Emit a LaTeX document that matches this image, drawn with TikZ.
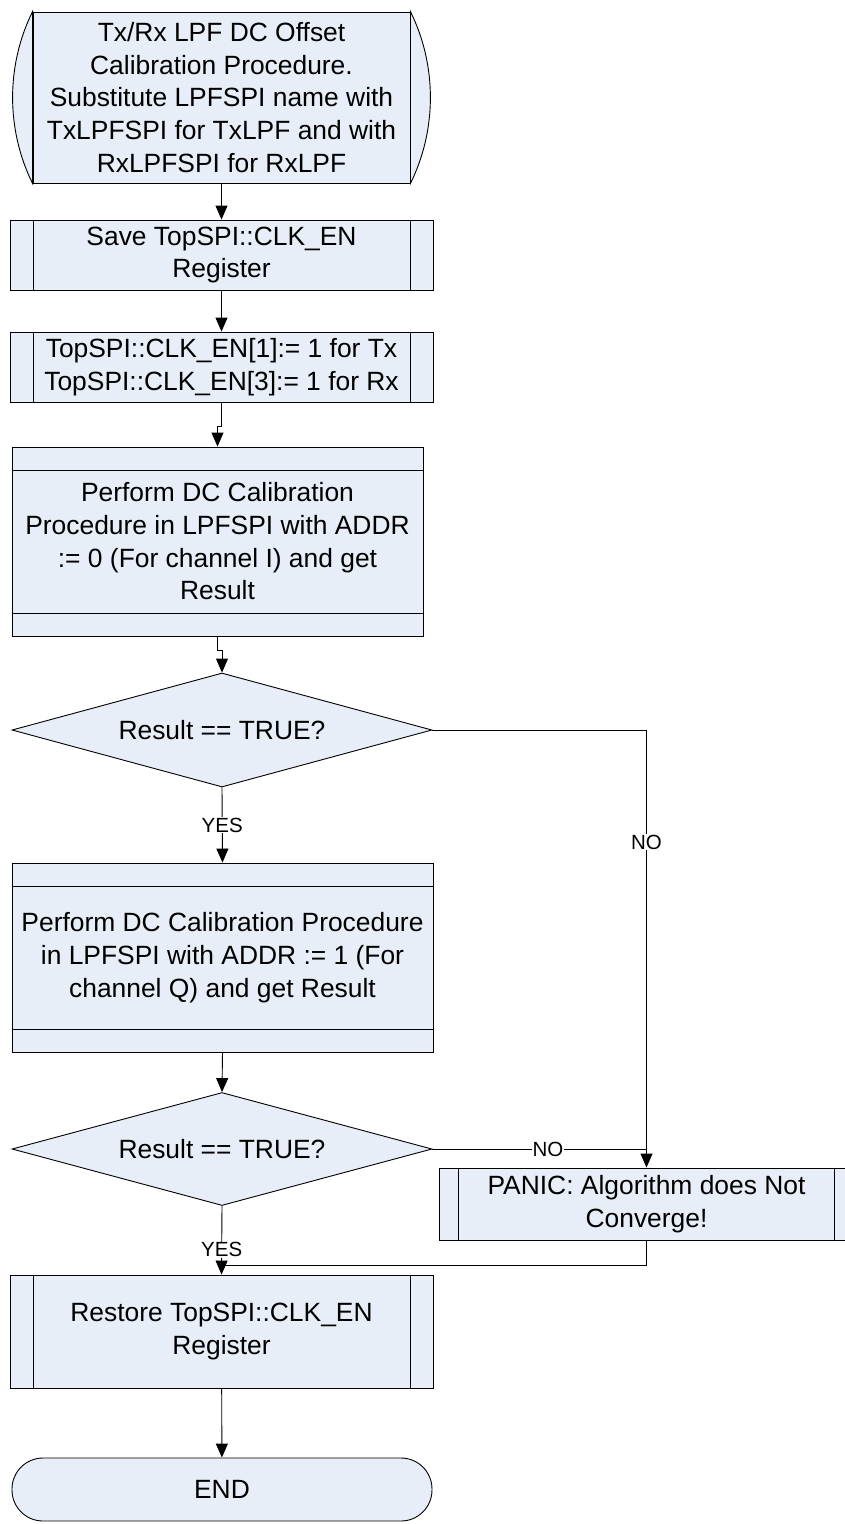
\documentclass[tikz,border=0pt]{standalone}
\usepackage{fontspec}
\setmainfont{Liberation Sans}
\usepackage{tikz}
\usetikzlibrary{arrows.meta}
\usetikzlibrary{shapes.geometric}
\definecolor{boxfill}{RGB}{232,238,247}

\begin{document}
\begin{tikzpicture}[x=1pt, y=-1pt, line width=0.9pt,
    every node/.style={font=\fontsize{26.4}{32.7}\selectfont, align=center, inner sep=0pt},
    box/.style={draw=black, fill=boxfill, rectangle},
    sub/.style={box, path picture={
        \draw ([xshift=#1]path picture bounding box.north west) -- ([xshift=#1]path picture bounding box.south west);
        \draw ([xshift=-#1]path picture bounding box.north east) -- ([xshift=-#1]path picture bounding box.south east);}},
    sub/.default=23pt,
    proc/.style={box, path picture={
        \draw ([yshift=-23pt]path picture bounding box.north west) -- ([yshift=-23pt]path picture bounding box.north east);
        \draw ([yshift=23pt]path picture bounding box.south west) -- ([yshift=23pt]path picture bounding box.south east);}},
    check/.style={draw=black, fill=boxfill, diamond, aspect=3.7, minimum width=420pt, minimum height=114pt},
    term/.style={draw=black, fill=boxfill, rounded corners=31pt},
    lbl/.style={font=\fontsize{20.5}{24}\selectfont, fill=white, inner sep=0.5pt},
    arr/.style={-{Triangle[length=14pt,width=12pt]}}]
            \useasboundingbox (0,0) rectangle (845,1524);
            \clip (0,0) rectangle (845,1524);

            % Place the start node
            \node[box, minimum width=377pt, minimum height=171pt] (start) at (221.5,97.5) {Tx/Rx LPF DC Offset\\Calibration Procedure.\\Substitute LPFSPI name with\\TxLPFSPI for TxLPF and with\\RxLPFSPI for RxLPF};
            \draw[fill=boxfill] (start.north east) .. controls +(26.6,53.8) and +(26.6,-53.8) .. (start.south east) -- cycle;
            \draw[fill=boxfill] (start.south west) .. controls +(-26.6,-53.8) and +(-26.6,53.8) .. (start.north west) -- cycle;

            % Place the other nodes
            \node[sub, minimum width=423pt, minimum height=70pt] (savereg) at (221.5,255) {Save TopSPI::CLK\_EN\\Register};
            \node[sub, minimum width=423pt, minimum height=70pt] (setclk) at (221.5,367) {TopSPI::CLK\_EN[1]:= 1 for Tx\\TopSPI::CLK\_EN[3]:= 1 for Rx};
            \node[proc, minimum width=411pt, minimum height=189pt] (calI) at (217.5,541.5) {Perform DC Calibration\\Procedure in LPFSPI with ADDR\\:= 0 (For channel I) and get\\Result};
            \node[check] (chkI) at (222,730) {Result == TRUE?};
            \node[proc, minimum width=421pt, minimum height=189pt] (calQ) at (222.5,957.5) {Perform DC Calibration Procedure\\in LPFSPI with ADDR := 1 (For\\channel Q) and get Result};
            \node[check, minimum height=113pt] (chkQ) at (222,1149) {Result == TRUE?};
            \node[sub=19pt, minimum width=414pt, minimum height=72pt] (panic) at (646.5,1204) {PANIC: Algorithm does Not\\Converge!};
            \node[sub, minimum width=423pt, minimum height=113pt] (restore) at (221.5,1331.5) {Restore TopSPI::CLK\_EN\\Register};
            \node[term, minimum width=420pt, minimum height=63pt] (finish) at (222,1489.5) {END};
            \coordinate (merge) at (222,1265);

            % The lines!
            \draw[arr] (start.south) -- (start.south |- savereg.north);
            \draw[arr] (savereg) -- (setclk);
            \draw[arr] (setclk.south) -- ++(0,24) -| (calI.north);
            \draw[arr] (calI.south) -- ++(0,14) -| (chkI.north);
            \draw[arr] (chkI.south) -- node[lbl] {YES} (calQ.north);
            \draw[arr] (chkI.east) -| node[lbl, pos=0.628] {NO} (panic.north);
            \draw[arr] (calQ.south) -- (chkQ.north);
            \draw (chkQ.east) -- node[lbl, pos=0.54] {NO} (chkQ.east -| panic.north);
            \draw[arr] (chkQ.south) -- node[lbl, pos=0.64] {YES} (restore.north);
            \draw (panic.south) |- (merge);
            \draw[arr] (restore) -- (finish);
\end{tikzpicture}
\end{document}
